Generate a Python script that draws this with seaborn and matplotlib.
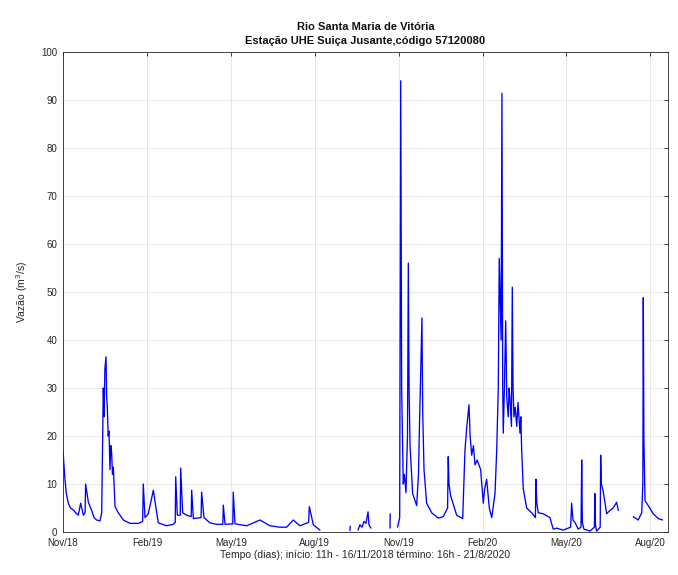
import numpy as np
import pandas as pd
import matplotlib
matplotlib.use("Agg")
import matplotlib.pyplot as plt
import seaborn as sns

# Vazao (dias desde 16/11/2018 11h), por trecho continuo
dia_1 = [0, 1, 2.1, 3.5, 5.7, 8, 11, 13.5, 16.3, 18.8, 21.7, 23.5, 24.1, 27, 30.5, 33, 35.8, 39.4,
         41.2, 42.9, 43.8, 44.6, 45.8, 46.5, 47.2, 48.1, 49, 50, 50.9, 51.8, 52.7, 53.6, 55.4, 58.9,
         64.2, 71.3, 80.2, 84.8, 85.5, 87.3, 90.8, 96.2, 99, 101.5, 110.4, 117.5, 119.5, 120, 121.7,
         124.8, 125.3, 127.4, 131.7, 136.5, 137, 138.8, 147, 147.6, 150.1, 156.5, 163.6, 170.2, 170.7,
         172.5, 180.8, 181.3, 183.1, 195.6, 209.7, 220.4, 231, 238.1, 245.2, 252.3, 261.5, 262.3,
         266.5, 273.6]
vaz_1 = [17, 14, 11, 8, 6, 5, 4.6, 4, 3.5, 6, 3.5, 4, 10, 6.2, 4.5, 3, 2.5, 2.3,
         4, 30, 24, 34, 36.5, 28, 26, 20, 21, 13, 18, 16.5, 12, 13.5, 5.3, 4,
         2.5, 1.8, 1.8, 2.2, 10, 3, 3.8, 8.7, 5, 1.9, 1.3, 1.6, 2, 11.5, 3.5,
         3.5, 13.3, 4, 3.5, 3.2, 8.7, 2.8, 3, 8.3, 3, 1.9, 1.6, 1.6, 5.6,
         1.6, 1.7, 8.3, 1.7, 1.3, 2.5, 1.3, 1, 1, 2.5, 1.3, 2, 5.3,
         1.5, 0.4]

dia_2 = [305.6, 305.8]
vaz_2 = [0.3, 1.2]

dia_3 = [314.1, 316.2, 318.4, 320.5, 322.6, 324.8, 325.8, 327.9]
vaz_3 = [0.4, 1.5, 1.0, 2.2, 1.8, 4.2, 1.5, 0.8]

dia_4 = [348.2, 348.4]
vaz_4 = [0.8, 3.8]

dia_5 = [356.2, 358.5, 359.6, 360.6, 362.3, 363.5, 365.2, 366.8, 367.7, 368.5, 369.5, 372.3,
         376.6, 378.5, 379.4, 380.5, 382.2, 383, 384.4, 387.2, 392.6, 399.6, 404.9, 409.5,
         410.2, 411, 412.8, 419.2, 425.6, 428, 430, 432.3, 433.5, 435.2, 437, 438.7, 441,
         444.7, 447.5, 449, 451.1, 453.9, 456.5, 460, 461.8, 463.5, 464.5, 466.5, 467.4,
         468.2, 468.8, 470, 471.4, 472.5, 474.1, 475, 475.9, 477.5, 478.4, 479.2, 480.2,
         481.5, 483.1, 484.5, 486.6, 487.5, 488.4, 490.1, 493.7, 499, 503, 503.6, 504.5,
         506.1, 511.4, 518.5, 522, 525.7, 532.7, 540.5, 541.6, 543, 545.1, 548.7, 551.6,
         552.3, 553, 554.7, 561.1, 565.8, 566.4, 567, 568.2, 572, 572.5, 573.2, 575.2,
         578.9, 582.4, 585.9, 589.5, 591.3]
vaz_5 = [1.0, 3, 94, 30, 10, 12, 8.2, 20, 56, 30, 18, 8,
         5.5, 12, 20.6, 30, 44.6, 25, 13, 6, 4, 2.9, 3.2, 5,
         15.7, 10, 7.5, 3.5, 2.8, 17, 22, 26.5, 20, 16, 18, 14, 15,
         13, 6, 9, 11, 5, 3, 8, 17, 30, 57, 40, 91.4,
         30, 20.6, 30, 44, 28, 24, 30, 28, 22, 51, 30, 24,
         26, 22, 27, 20.6, 24, 17, 9, 5, 4, 3, 11, 6,
         4, 3.8, 3, 0.6, 0.8, 0.4, 1, 6, 2.5, 2, 0.6, 1,
         15, 2, 0.6, 0.2, 1, 8, 1.5, 0.2, 1, 16, 10, 8.5,
         3.8, 4.5, 5, 6.2, 4.5]

dia_6 = [607.2, 612.5, 616.2, 617.4, 617.9, 618.5, 619.7, 623.2, 628.5, 633.8, 638.5]
vaz_6 = [3.2, 2.5, 4, 10, 48.8, 20, 6.5, 5.5, 3.8, 2.8, 2.5]

rotulos_x = ['Nov/18', 'Feb/19', 'May/19', 'Aug/19', 'Nov/19', 'Feb/20', 'May/20', 'Aug/20']
pos_x = [0, 89.4, 178.7, 268.1, 357.4, 446.8, 536.1, 625.5]

# Monta tabela longa, um trecho por unidade (deixa os buracos sem linha)
trechos = [(dia_1, vaz_1), (dia_2, vaz_2), (dia_3, vaz_3), (dia_4, vaz_4), (dia_5, vaz_5), (dia_6, vaz_6)]
df = pd.concat([pd.DataFrame({'dia': d, 'vazao': v, 'trecho': i}) for i, (d, v) in enumerate(trechos)],
               ignore_index=True)

sns.set_style("white")
plt.rcParams['font.family'] = ['Liberation Sans', 'DejaVu Sans']

fig = plt.figure(figsize=(6.78, 5.75), dpi=100)
ax = fig.add_axes([63 / 678, 1 - 532 / 575, 605 / 678, 480 / 575])

sns.lineplot(data=df, x='dia', y='vazao', units='trecho', estimator=None, sort=False,
             color='#0000ff', linewidth=0.95, ax=ax)

ax.set_xlim(0, 644.2)
ax.set_ylim(0, 100)
ax.set_xticks(pos_x)
ax.set_xticklabels(rotulos_x)
ax.set_yticks(np.arange(0, 101, 10))

ax.grid(True, color='#e3e3e3', linewidth=0.6)
ax.set_axisbelow(True)
ax.tick_params(direction='in', length=3, width=0.6, colors='#262626', labelsize=7,
               top=True, right=True, pad=4)
for s in ax.spines.values():
    s.set_color('#262626')
    s.set_linewidth(0.6)

ax.set_xlabel('Tempo (dias); início: 11h - 16/11/2018 término: 16h - 21/8/2020', fontsize=7.5,
              color='#262626', labelpad=2)
ax.set_ylabel('Vazão (m$^3$/s)', fontsize=7.5, color='#262626', labelpad=8)
ax.set_title('Rio Santa Maria de Vitória\nEstação UHE Suiça Jusante,código 57120080',
             fontsize=8, fontweight='bold', color='#111111', pad=6, linespacing=1.5)

fig.savefig('out.png', dpi=100)
